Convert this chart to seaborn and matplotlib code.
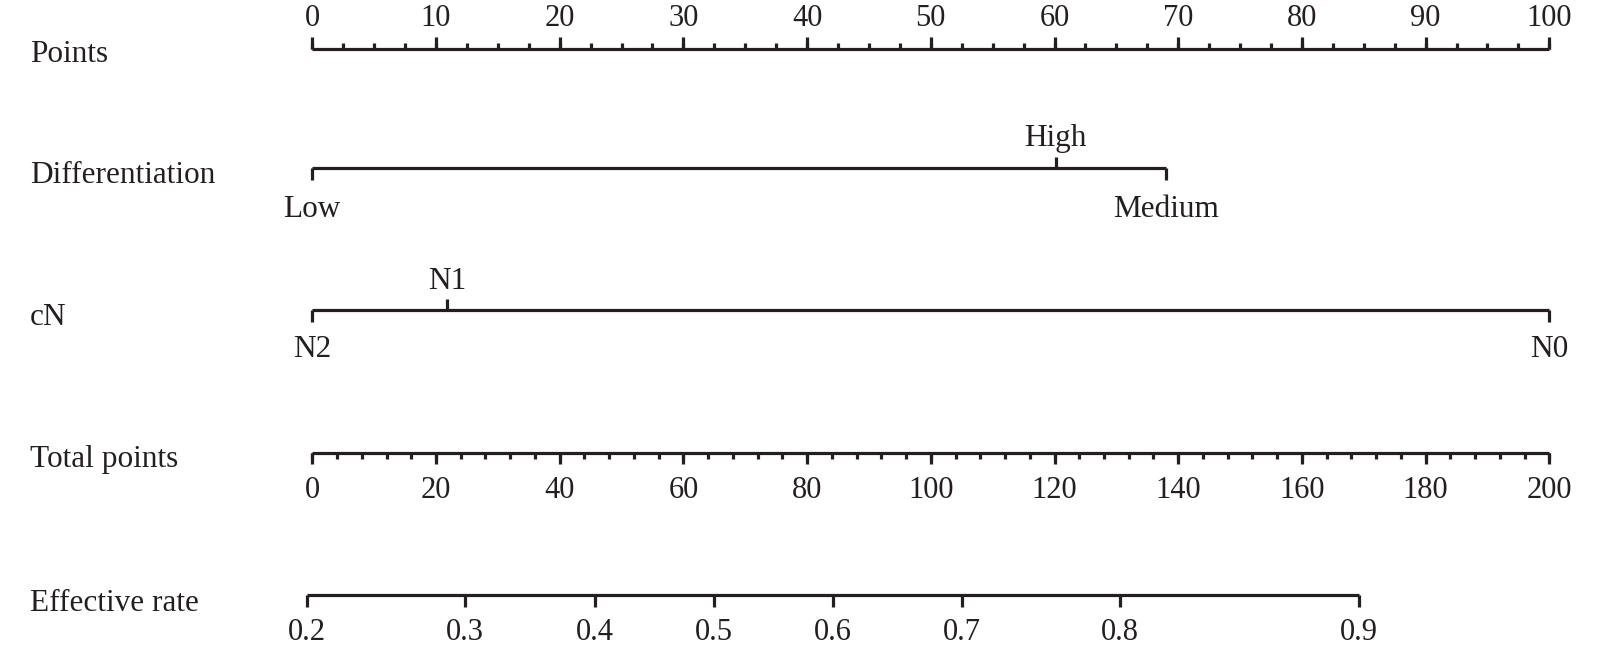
import matplotlib
matplotlib.use("Agg")
import matplotlib.pyplot as plt
import seaborn as sns
import numpy as np

points_ticks = list(range(0, 101, 10))
points_minor = list(np.arange(0, 100.1, 2.5))

diff_levels = ["Low", "High", "Medium"]
diff_points = [0, 60.1, 69.0]

cn_levels = ["N2", "N1", "N0"]
cn_points = [0, 10.9, 100]

total_ticks = list(range(0, 201, 20))
total_minor = list(range(0, 201, 4))

rate_labels = ["0.2", "0.3", "0.4", "0.5", "0.6", "0.7", "0.8", "0.9"]
rate_total_points = [-0.8, 24.7, 45.7, 64.9, 84.2, 105.0, 130.6, 169.2]

row_names = ["Points", "Differentiation", "cN", "Total points", "Effective rate"]

sns.set_theme(style="white")
plt.rcParams["font.family"] = ["Liberation Serif", "DejaVu Serif"]

cor = "#231f20"
lw = 2.3

fig = plt.figure(figsize=(16, 6.52), dpi=100)
ax = fig.add_axes([0, 0, 1, 1])

# escala em pixels: x=0 -> 312.3 px, x=100 -> 1549.3 px
x0, k = 312.3, 12.37
ax.set_xlim(-x0 / k, (1600 - x0) / k)
ax.set_ylim(652, 0)
ax.axis("off")


def linha(xs, y):
    sns.lineplot(x=[min(xs), max(xs)], y=[y, y], ax=ax, color=cor, lw=lw,
                 solid_capstyle="butt")


def ticks(xs, y, comp):
    ax.vlines(xs, y, y + comp, color=cor, lw=lw)


fs_num = 22
fs_lab = 22.5

# Points
y = 49
linha(points_minor, y)
ticks(points_minor, y, -6)
ticks(points_ticks, y, -12)
for v in points_ticks:
    ax.text(v, 26, str(v), ha="center", va="baseline", fontsize=fs_num, color=cor)

# Differentiation
y = 168
linha(diff_points, y)
for nome, v in zip(diff_levels, diff_points):
    if nome == "High":
        ticks([v], y, -11)
        ax.text(v, 146, nome, ha="center", va="baseline", fontsize=fs_lab, color=cor)
    else:
        ticks([v], y, 12)
        ax.text(v, 217, nome, ha="center", va="baseline", fontsize=fs_lab, color=cor)

# cN
y = 310
linha(cn_points, y)
for nome, v in zip(cn_levels, cn_points):
    if nome == "N1":
        ticks([v], y, -11)
        ax.text(v, 289, nome, ha="center", va="baseline", fontsize=fs_lab, color=cor)
    else:
        ticks([v], y, 12)
        ax.text(v, 357, nome, ha="center", va="baseline", fontsize=fs_lab, color=cor)

# Total points (0-200 -> 0-100)
y = 453
tot_x = np.array(total_ticks) / 2
tot_minor_x = np.array(total_minor) / 2
linha(tot_minor_x, y)
ticks(tot_minor_x, y, 6)
ticks(tot_x, y, 11)
for v, xv in zip(total_ticks, tot_x):
    ax.text(xv, 498, str(v), ha="center", va="baseline", fontsize=fs_num, color=cor)

# Effective rate
y = 595
rate_x = np.array(rate_total_points) / 2
linha(rate_x, y)
ticks(rate_x, y, 12)
for lab, xv in zip(rate_labels, rate_x):
    ax.text(xv, 640, lab, ha="center", va="baseline", fontsize=fs_num, color=cor)

# nomes das linhas
label_y = [62, 183, 325, 467, 611]
for nome, yy in zip(row_names, label_y):
    ax.text((30 - x0) / k, yy, nome, ha="left", va="baseline", fontsize=fs_lab, color=cor)

fig.savefig("out.png", dpi=100, facecolor="white")
